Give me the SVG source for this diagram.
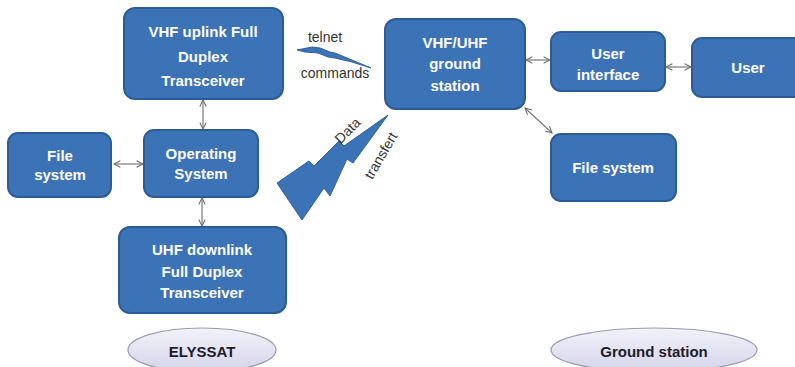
<svg xmlns="http://www.w3.org/2000/svg" width="795" height="367" viewBox="0 0 795 367">
<defs>
<marker id="ah" viewBox="0 0 10 10" refX="9" refY="5" markerWidth="8" markerHeight="8" markerUnits="userSpaceOnUse" orient="auto-start-reverse">
<path d="M1,1 L9,5 L1,9" fill="none" stroke="#6a6a6a" stroke-width="1.3"/>
</marker>
<linearGradient id="eg" x1="0" y1="0" x2="0" y2="1">
<stop offset="0" stop-color="#f2f2fa"/>
<stop offset="1" stop-color="#d4d4ea"/>
</linearGradient>
</defs>
<style>
.box{fill:#3c72b6;stroke:#2c5c95;stroke-width:2}
.t{font-family:"Liberation Sans",Arial,sans-serif;font-weight:bold;font-size:15px;fill:#ffffff;text-anchor:middle}
.e{fill:url(#eg);stroke:#9a9ab0;stroke-width:1.2}
.et{font-family:"Liberation Sans",Arial,sans-serif;font-weight:bold;font-size:15px;fill:#1c1c28;text-anchor:middle}
.c{stroke:#7a7a7a;stroke-width:1.2;fill:none;marker-start:url(#ah);marker-end:url(#ah)}
.bolt{fill:#3c72b6;stroke:#2f62a0;stroke-width:1}
.lbl{font-family:"Liberation Sans",Arial,sans-serif;font-size:14px;fill:#333333}
</style>
<rect width="795" height="367" fill="#ffffff"/>

<g id="connectors">
<line class="c" x1="203" y1="100" x2="203" y2="129"/>
<line class="c" x1="114" y1="164" x2="143" y2="164"/>
<line class="c" x1="202" y1="198" x2="202" y2="226"/>
<line class="c" x1="526" y1="60" x2="550" y2="60"/>
<line class="c" x1="666" y1="67" x2="691" y2="67"/>
<line class="c" x1="525" y1="108" x2="552" y2="133"/>
</g>

<g id="vhf-uplink">
<rect class="box" x="124" y="8" width="159" height="91" rx="11"/>
<text class="t" x="203" y="37">VHF uplink Full</text>
<text class="t" x="203" y="62">Duplex</text>
<text class="t" x="203" y="86">Transceiver</text>
</g>

<g id="file-system-sat">
<rect class="box" x="8" y="133" width="103" height="64" rx="10"/>
<text class="t" x="60" y="161">File</text>
<text class="t" x="60" y="180">system</text>
</g>

<g id="operating-system">
<rect class="box" x="144" y="130" width="114" height="67" rx="10"/>
<text class="t" x="201" y="159">Operating</text>
<text class="t" x="201" y="179">System</text>
</g>

<g id="uhf-downlink">
<rect class="box" x="119" y="227" width="167" height="86" rx="11"/>
<text class="t" x="202" y="255">UHF downlink</text>
<text class="t" x="202" y="277">Full Duplex</text>
<text class="t" x="202" y="298">Transceiver</text>
</g>

<g id="ground-station-node">
<rect class="box" x="385" y="19" width="140" height="90" rx="11"/>
<text class="t" x="455" y="48">VHF/UHF</text>
<text class="t" x="455" y="69">ground</text>
<text class="t" x="455" y="91">station</text>
</g>

<g id="user-interface">
<rect class="box" x="551" y="32" width="114" height="59" rx="10"/>
<text class="t" x="608" y="59">User</text>
<text class="t" x="608" y="80">interface</text>
</g>

<g id="user">
<rect class="box" x="692" y="38" width="115" height="59" rx="10"/>
<text class="t" x="748" y="73">User</text>
</g>

<g id="file-system-ground">
<rect class="box" x="551" y="134" width="125" height="67" rx="10"/>
<text class="t" x="613" y="173">File system</text>
</g>

<g id="telnet-link">
<polygon class="bolt" points="297,50 312,47 320,48 330,52 335,53 371,68 352,62 335,58 328,57 318,53 305,52"/>
<text class="lbl" x="325" y="42" text-anchor="middle">telnet</text>
<text class="lbl" x="335" y="78" text-anchor="middle" font-size="15">commands</text>
</g>

<g id="data-link">
<polygon class="bolt" points="277,183 309,161 314,166 339,141 344,146 388,115 353,163 347,159 330,196 324,188 302,220"/>
<text class="lbl" x="0" y="0" text-anchor="middle" transform="translate(351,134) rotate(-45)">Data</text>
<text class="lbl" x="0" y="0" text-anchor="middle" transform="translate(385,158) rotate(-60)">transfert</text>
</g>

<g id="elyssat">
<ellipse class="e" cx="202" cy="350" rx="74" ry="22"/>
<text class="et" x="202" y="357">ELYSSAT</text>
</g>

<g id="ground-station-label">
<ellipse class="e" cx="654" cy="350" rx="103" ry="22"/>
<text class="et" x="654" y="357">Ground station</text>
</g>
</svg>
